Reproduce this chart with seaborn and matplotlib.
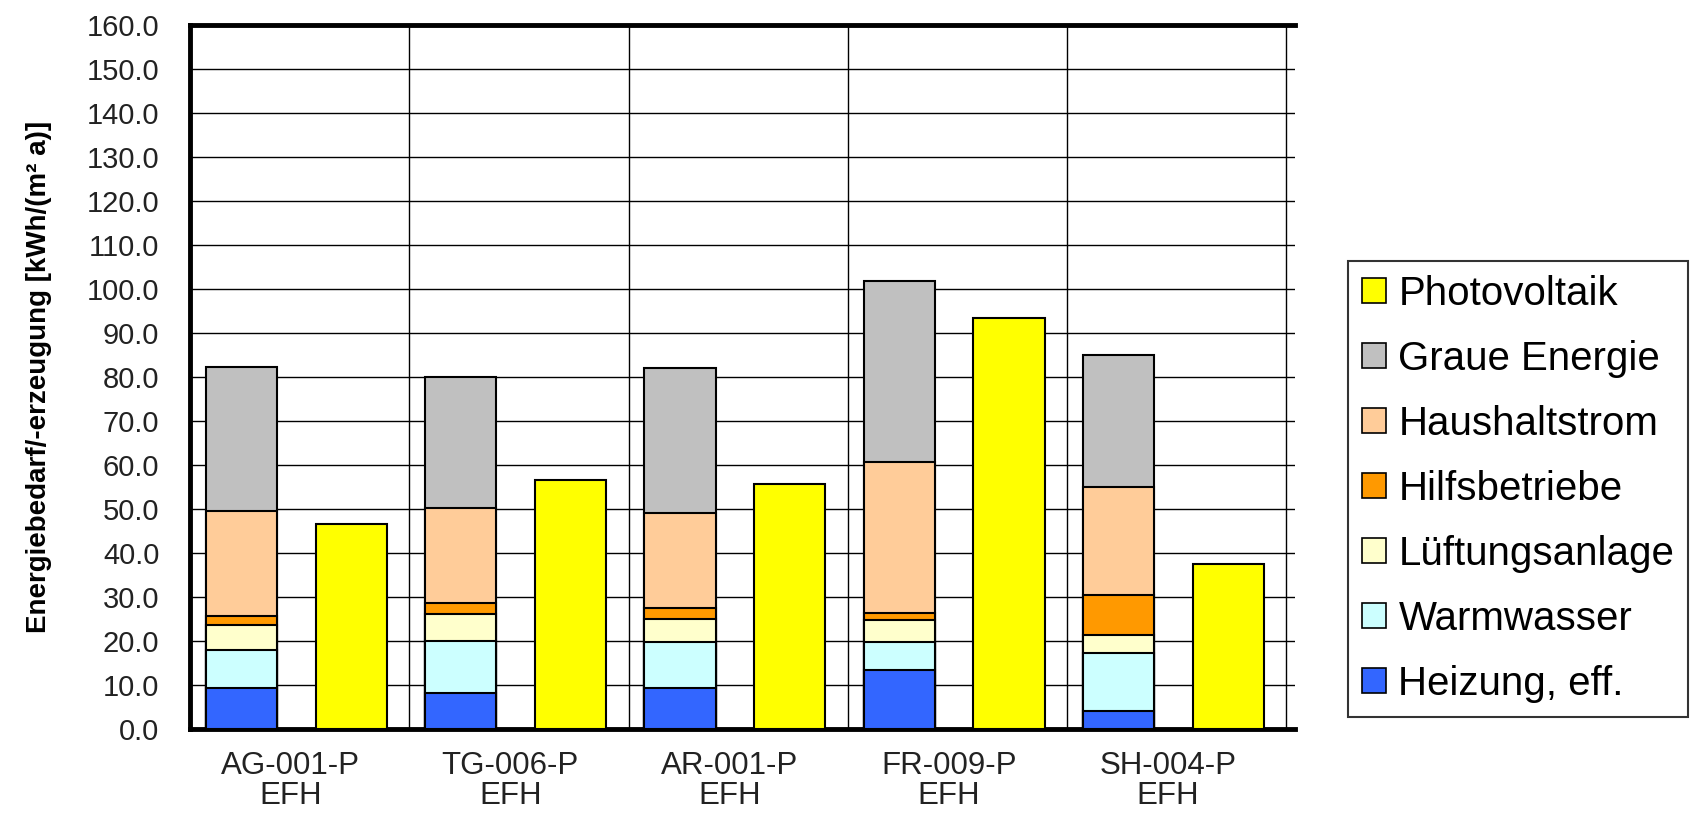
import numpy as np
import matplotlib
matplotlib.use("Agg")
import matplotlib.pyplot as plt
from matplotlib.patches import Patch
import seaborn as sns

# Projects and building type (second line of each category label)
projects = ["AG-001-P", "TG-006-P", "AR-001-P", "FR-009-P", "SH-004-P"]
building_type = ["EFH", "EFH", "EFH", "EFH", "EFH"]

# Energy demand components in kWh/(m² a), stacked bottom to top
heizung = [9.3, 8.0, 9.3, 13.2, 4.0]
warmwasser = [8.6, 11.9, 10.3, 6.4, 13.1]
lueftung = [5.6, 6.1, 5.3, 5.0, 4.1]
hilfsbetriebe = [2.1, 2.5, 2.4, 1.7, 9.2]
haushaltstrom = [23.9, 21.7, 21.8, 34.2, 24.6]
graue_energie = [32.8, 29.7, 32.8, 41.3, 30.0]

# Energy production
photovoltaik = [46.4, 56.5, 55.5, 93.4, 37.3]

y_ticks = np.arange(0, 161, 10)

layers = [
    ("Heizung, eff.", heizung, "#3366FF"),
    ("Warmwasser", warmwasser, "#CCFFFF"),
    ("Lüftungsanlage", lueftung, "#FFFFCC"),
    ("Hilfsbetriebe", hilfsbetriebe, "#FF9900"),
    ("Haushaltstrom", haushaltstrom, "#FFCC99"),
    ("Graue Energie", graue_energie, "#C0C0C0"),
]
pv_color = "#FFFF00"

sns.set_theme(style="white")
plt.rcParams["font.family"] = ["Liberation Sans", "DejaVu Sans"]

fig = plt.figure(figsize=(16.95, 8.16), dpi=100)
W, H = 1695, 816
ax = fig.add_axes([190 / W, 87.5 / H, (1295 - 190) / W, (791 - 87.5) / H])

pos = np.arange(len(projects))
demand_x = pos - 0.265
pv_x = pos + 0.235
bar_w = 0.325
edge_lw = 1.5

# stacked demand bars: draw cumulative totals from the top layer down
cum = np.cumsum(np.array([vals for _, vals, _ in layers]), axis=0)
for k in range(len(layers) - 1, -1, -1):
    sns.barplot(x=demand_x, y=cum[k], native_scale=True, width=bar_w,
                color=layers[k][2], saturation=1, edgecolor="black",
                linewidth=edge_lw, errorbar=None, ax=ax, zorder=3)

# photovoltaic production bars
sns.barplot(x=pv_x, y=photovoltaik, native_scale=True, width=bar_w,
            color=pv_color, saturation=1, edgecolor="black",
            linewidth=edge_lw, errorbar=None, ax=ax, zorder=3)

ax.set_xlim(-0.5, 4.539)
ax.set_ylim(0, 160)
ax.set_yticks(y_ticks)
ax.set_yticklabels([f"{v:.1f}" for v in y_ticks])
ax.set_xticks(pos - 0.04)
ax.set_xticklabels([f"{p}\n{t}" for p, t in zip(projects, building_type)],
                   linespacing=1.0)
ax.set_xticks(pos + 0.5, minor=True)

ax.tick_params(axis="y", which="both", length=0, pad=22, labelsize=21,
               labelcolor="#222222")
ax.tick_params(axis="x", which="both", length=0, pad=16, labelsize=22.5,
               labelcolor="#222222")

ax.set_axisbelow(True)
ax.grid(axis="y", which="major", color="black", linewidth=1.0)
ax.grid(axis="x", which="minor", color="black", linewidth=1.0)
ax.grid(axis="x", which="major", visible=False)

for side in ["left", "top", "bottom"]:
    ax.spines[side].set_visible(True)
    ax.spines[side].set_color("black")
    ax.spines[side].set_linewidth(3.5)
ax.spines["right"].set_visible(False)

ax.set_xlabel("")
ax.set_ylabel("Energiebedarf/-erzeugung [kWh/(m² a)]", fontsize=20,
              fontweight="bold", color="black")
ax.yaxis.set_label_coords(-0.137, 0.5)
ax.yaxis.label.set_va("center")

# legend, listed top layer first
handles = [Patch(facecolor=pv_color, edgecolor="black", linewidth=1.2)]
labels = ["Photovoltaik"]
for name, _, col in reversed(layers):
    handles.append(Patch(facecolor=col, edgecolor="black", linewidth=1.2))
    labels.append(name)

leg = fig.legend(handles, labels, loc="upper left",
                 bbox_to_anchor=(1348 / W, 1 - 261 / H),
                 bbox_transform=fig.transFigure, borderaxespad=0,
                 frameon=True, fancybox=False, fontsize=29,
                 handlelength=0.6, handleheight=0.58, handletextpad=0.3,
                 labelspacing=0.67, borderpad=0.35)
leg.get_frame().set_edgecolor("black")
leg.get_frame().set_linewidth(1.5)
for t in leg.get_texts():
    t.set_color("black")

fig.savefig("out.png", dpi=100, facecolor="white")
